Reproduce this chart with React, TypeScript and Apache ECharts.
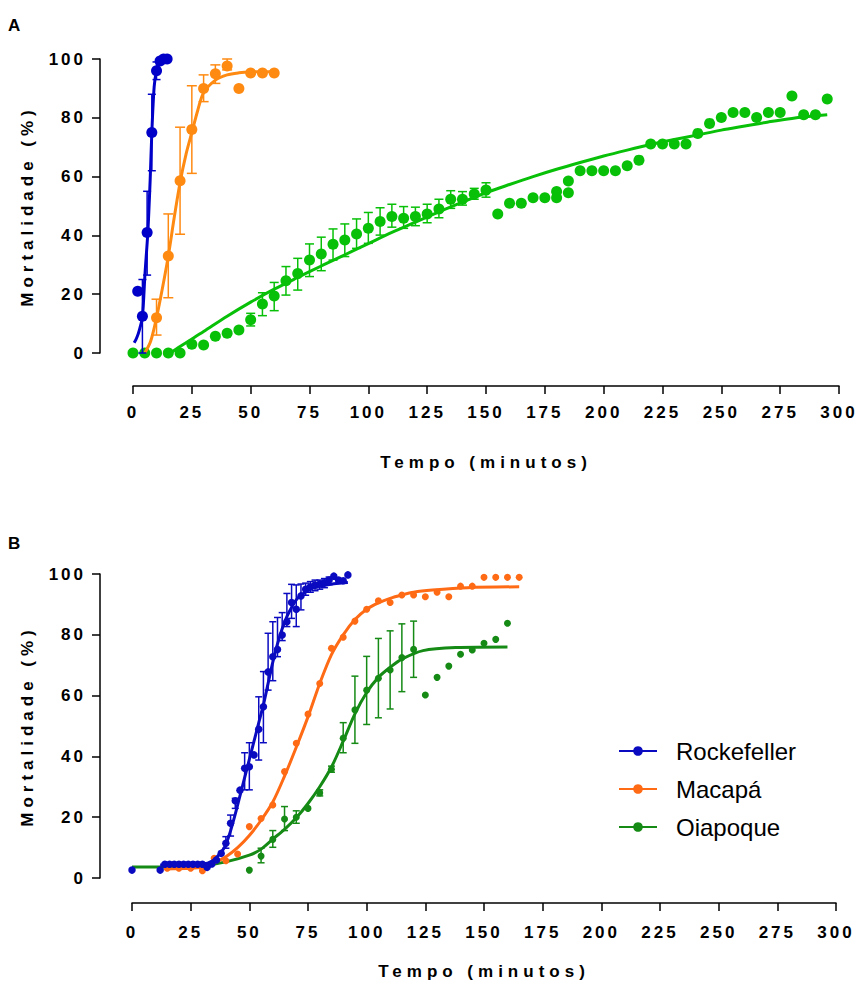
import React, { useEffect, useRef } from "react";
import * as echarts from "echarts";

// ---------- axis ticks ----------
const xTicks = [0, 25, 50, 75, 100, 125, 150, 175, 200, 225, 250, 275, 300];
const yTicks = [0, 20, 40, 60, 80, 100];
const xTitle = "Tempo (minutos)";
const yTitle = "Mortalidade (%)";

// ---------- Panel A (time in minutes, mortality %) ----------
const rockA: number[][] = [[2, 21], [4, 12.5], [6, 41], [8, 75], [10, 96], [11.5, 99.3], [13, 100], [14.5, 100]];
const rockAErr: number[][] = [[4, 0, 25], [6, 26.5, 55], [8, 62, 88], [10, 93, 99]];
const rockAFit: number[][] = [[0.5, 3.5], [1.5, 5], [2.7, 7.8], [4, 12.3], [5.1, 27], [6.3, 41], [7.3, 59], [8, 75], [9, 90.6], [10, 96], [11.5, 99]];

const macA: number[][] = [[10, 12], [15, 33], [20, 58.6], [25, 76], [30, 90], [35, 95], [40, 97.6], [45, 90], [50, 95.2], [55, 95.2], [60, 95.2]];
const macAErr: number[][] = [[10, 6.1, 18.3], [15, 18.8, 47.3], [20, 40.4, 76.8], [25, 61.1, 90.9], [30, 85.5, 94.6], [35, 91.7, 98], [40, 96.3, 100]];
const macAFit: number[][] = [[5, 0], [7.5, 4], [10, 12], [12.5, 22], [15, 33], [17.5, 46], [20, 58], [22.5, 67.5], [25, 75], [27.5, 82.5], [30, 88.5], [35, 92.8], [40, 94.6], [45, 95.3], [50, 95.6], [60, 95.7]];

const oiaA: number[][] = [
  [0, 0], [5, 0], [10, 0], [15, 0], [20, 0], [25, 3], [30, 2.7], [35, 5.7], [40, 6.7], [45, 7.8],
  [50, 11.3], [55, 16.7], [60, 19.4], [65, 24.6], [70, 27], [75, 31.6], [80, 33.7], [85, 37], [90, 38.4], [95, 40.5],
  [100, 42.4], [105, 44.7], [110, 46.4], [115, 45.8], [120, 46.4], [125, 47.3], [130, 49], [135, 52.3], [140, 52.3], [145, 54.1],
  [150, 55.4], [155, 47.3], [160, 50.9], [165, 50.9], [170, 52.8], [175, 52.8], [180, 52.8], [180, 54.9], [185, 54.5], [185, 58.5],
  [190, 62], [195, 62], [200, 62], [205, 62], [210, 63.7], [215, 65.6], [220, 71.1], [225, 71.1], [230, 71.1], [235, 71.1],
  [240, 74.7], [245, 78.1], [250, 80.1], [255, 81.8], [260, 81.8], [265, 80.1], [270, 81.8], [275, 81.8], [280, 87.4], [285, 81],
  [290, 81], [295, 86.4],
];
const oiaAErr: number[][] = [
  [50, 9.2, 13.5], [55, 12.7, 20.5], [60, 14.4, 24], [65, 19.7, 29.4], [70, 21.4, 32.2], [75, 26, 37.1], [80, 28, 39.4],
  [85, 31.6, 42.2], [90, 32.8, 43.9], [95, 35.6, 45.6], [100, 37.3, 47.8], [105, 40.1, 49.4], [110, 42.8, 50.6],
  [115, 42.4, 49.8], [120, 43.3, 49.6], [125, 44.3, 50.6], [130, 46, 52.3], [135, 49.2, 55.2], [140, 50.3, 54.9],
  [145, 52.3, 56], [150, 53, 57.9],
];
const oiaAFit: number[][] = [
  [16, 0], [20, 2.2], [30, 7.3], [40, 12.5], [50, 17.3], [60, 21.7], [70, 25.7], [80, 29.6], [90, 33.4], [100, 37.2],
  [110, 41], [120, 44.5], [130, 48], [140, 51.3], [150, 54.5], [160, 57.3], [170, 60], [180, 62.5], [190, 64.8], [200, 67],
  [210, 69], [220, 70.9], [230, 72.6], [240, 74.2], [250, 75.8], [260, 77.2], [270, 78.6], [280, 79.8], [295, 81],
];

// ---------- Panel B ----------
const rockB: number[][] = [
  [0, 2.6], [12, 2.6], [14, 4.5], [16, 4.5], [18, 4.5], [20, 4.5], [22, 4.5], [24, 4.5], [26, 4.5], [28, 4.5], [30, 4.5],
  [32, 3.5], [34, 4.6], [36, 5.9], [38, 8.1], [40, 11.4], [42, 18], [44, 25.4], [46, 28.9], [48, 36.1], [50, 36.6],
  [52, 40.5], [54, 48.9], [56, 56.3], [58, 67.8], [60, 72.8], [62, 75.2], [64, 79.9], [66, 84.3], [68, 90.6], [70, 88.4],
  [72, 92.8], [74, 95], [76, 95.8], [78, 96.4], [80, 96.7], [82, 97.1], [84, 98], [86, 99.3], [88, 98], [90, 97.8], [92, 99.7],
];
const rockBErr: number[][] = [
  [40, 9.8, 13.6], [42, 13.8, 20.7], [44, 22.9, 26.2], [48, 29, 41.2], [50, 29, 44.5], [54, 38.8, 59.6], [56, 44.5, 67.9],
  [58, 61.8, 80.5], [60, 64.9, 84.3], [62, 72.8, 85.7], [64, 78.1, 87.3], [66, 82.7, 93.6], [68, 85.4, 96.6], [70, 82.7, 96.4],
  [72, 88.2, 96.7], [74, 93, 97], [76, 94, 97.5], [78, 94.5, 98], [80, 95, 98], [82, 95.5, 98.5], [84, 96.5, 99],
];
const rockBFit: number[][] = [[12, 4.3], [30, 4.6], [34, 5.5], [38, 8.5], [40, 11], [42, 15.5], [44, 21], [46, 27], [48, 33], [50, 39], [52, 45], [54, 51], [56, 57], [58, 64], [60, 71], [62, 77], [64, 82], [66, 86], [68, 89], [70, 91.5], [72, 93], [76, 95], [80, 96], [86, 96.8], [92, 97.2]];

const macB: number[][] = [
  [15, 3.2], [20, 3.2], [25, 3.2], [30, 2.4], [35, 6.5], [40, 5.7], [45, 7.9], [50, 16.9], [55, 19.6], [60, 24], [65, 35],
  [70, 44.3], [75, 53.9], [80, 64], [85, 75.6], [90, 79.2], [95, 84.5], [100, 88.4], [105, 91.2], [110, 90.6], [115, 93.1],
  [120, 93.1], [125, 92.5], [130, 94], [135, 92.5], [140, 96], [145, 96], [150, 98.9], [155, 98.9], [160, 98.9], [165, 98.9],
];
const macBFit: number[][] = [[14, 3], [25, 3.2], [30, 3.6], [35, 5], [40, 7], [45, 10], [50, 14], [55, 19], [60, 25], [65, 33.5], [70, 43], [75, 53], [80, 64], [85, 73.5], [90, 80], [95, 85], [100, 88.4], [105, 90.5], [110, 92], [115, 93.1], [120, 94], [128, 94.7], [143, 95.5], [165, 95.8]];

const oiaB: number[][] = [
  [50, 2.6], [55, 7.2], [60, 12.7], [65, 19.4], [70, 20], [75, 22.9], [80, 28], [85, 35.8], [90, 46], [95, 55.3], [100, 61.8],
  [105, 65.7], [110, 68.4], [115, 72.5], [120, 75.2], [125, 60.2], [130, 66], [135, 69.7], [140, 73.6], [145, 75], [150, 77.2],
  [155, 78.5], [160, 83.8],
];
const oiaBErr: number[][] = [
  [55, 5, 9.8], [60, 10.1, 15.6], [65, 15.6, 23.5], [70, 18, 22.1], [80, 27, 29], [85, 34.8, 36.8], [90, 41.2, 51.1],
  [95, 44.3, 66.4], [100, 50.5, 72.9], [105, 52.7, 78.8], [110, 55.6, 81.3], [115, 61.3, 83.6], [120, 66, 84.5],
];
const oiaBFit: number[][] = [[0, 3.6], [20, 3.7], [30, 4], [40, 5.3], [50, 7.5], [55, 9.5], [60, 12.8], [65, 16], [70, 19.8], [75, 24.5], [80, 30], [85, 36.5], [90, 45], [95, 54], [100, 61], [105, 66], [110, 69.3], [115, 72], [124, 74.8], [138, 75.8], [160, 76]];

const legendNames = ["Rockefeller", "Macapá", "Oiapoque"];

// ---------- styling ----------
const FONT = '"Liberation Sans", Arial, sans-serif';
const colA = { rock: "#0000C8", mac: "#FF8A12", oia: "#08C008" };
const colB = { rock: "#0A0AC0", mac: "#FF6A14", oia: "#158A15" };

function errSeries(name: string, data: number[][], color: string, idx: number, capW: number, lw: number, z: number) {
  return {
    type: "custom",
    name,
    xAxisIndex: idx,
    yAxisIndex: idx,
    z,
    silent: true,
    encode: { x: 0, y: [1, 2] },
    data,
    renderItem: (_p: any, api: any) => {
      const t = api.value(0);
      const a = api.coord([t, api.value(1)]);
      const b = api.coord([t, api.value(2)]);
      const style = { stroke: color, lineWidth: lw, fill: "none" };
      return {
        type: "group",
        children: [
          { type: "line", shape: { x1: a[0], y1: a[1], x2: b[0], y2: b[1] }, style },
          { type: "line", shape: { x1: a[0] - capW / 2, y1: a[1], x2: a[0] + capW / 2, y2: a[1] }, style },
          { type: "line", shape: { x1: b[0] - capW / 2, y1: b[1], x2: b[0] + capW / 2, y2: b[1] }, style },
        ],
      };
    },
  };
}

function scatter(name: string, data: number[][], color: string, idx: number, size: number, z: number) {
  return { type: "scatter", name, xAxisIndex: idx, yAxisIndex: idx, data, symbol: "circle", symbolSize: size, itemStyle: { color, opacity: 1 }, z, silent: true };
}

function fit(name: string, data: number[][], color: string, idx: number, w: number, z: number) {
  return {
    type: "line", name, xAxisIndex: idx, yAxisIndex: idx, data, smooth: 0.3, showSymbol: false, symbol: "circle", symbolSize: 9,
    itemStyle: { color }, lineStyle: { color, width: w }, z, silent: true,
  };
}

const tickLabel = { fontSize: 17, fontWeight: "bold", color: "#000", fontFamily: FONT };
const titleStyle = { fontSize: 17, fontWeight: "bold", color: "#000", fontFamily: FONT };

function xAxisCfg(idx: number, offset: number, margin: number, nameGap: number) {
  return {
    gridIndex: idx, type: "value", min: xTicks[0], max: xTicks[xTicks.length - 1], interval: xTicks[1] - xTicks[0],
    offset,
    axisLine: { show: true, onZero: false, lineStyle: { color: "#000", width: 1.5 } },
    axisTick: { show: true, length: 8, lineStyle: { color: "#000", width: 1.5 } },
    axisLabel: { margin, ...tickLabel },
    splitLine: { show: false },
    name: xTitle, nameLocation: "middle", nameGap,
    nameTextStyle: titleStyle,
  };
}

function yAxisCfg(idx: number, offset: number) {
  return {
    gridIndex: idx, type: "value", min: yTicks[0], max: yTicks[yTicks.length - 1], interval: yTicks[1] - yTicks[0],
    offset,
    axisLine: { show: true, onZero: false, lineStyle: { color: "#000", width: 1.5 } },
    axisTick: { show: true, length: 8, lineStyle: { color: "#000", width: 1.5 } },
    axisLabel: { margin: 14, ...tickLabel },
    splitLine: { show: false },
    name: yTitle, nameLocation: "middle", nameGap: 64,
    nameTextStyle: titleStyle,
  };
}

const tickSet = new Set([...xTicks, ...yTicks].map(String));
const titleSet = new Set([xTitle, yTitle]);

function spaceTexts(root: HTMLElement | null) {
  if (!root) return;
  root.querySelectorAll("text").forEach((el) => {
    const t = (el.textContent || "").trim();
    if (tickSet.has(t)) el.setAttribute("letter-spacing", "3");
    else if (titleSet.has(t)) el.setAttribute("letter-spacing", "5");
  });
}

export default function App() {
  const ref = useRef<HTMLDivElement>(null);
  useEffect(() => {
    if (!ref.current) return;
    const chart = echarts.init(ref.current, null, { renderer: "svg" });
    chart.setOption({
      animation: false,
      backgroundColor: "#fff",
      textStyle: { fontFamily: FONT },
      grid: [
        { left: 133, top: 59, width: 706, height: 294 },
        { left: 132, top: 574, width: 704, height: 304 },
      ],
      xAxis: [xAxisCfg(0, 33, 18, 68), xAxisCfg(1, 25, 21, 60)],
      yAxis: [yAxisCfg(0, 33), yAxisCfg(1, 32)],
      legend: {
        data: legendNames,
        orient: "vertical",
        left: 613,
        top: 734,
        itemWidth: 38,
        itemHeight: 12,
        itemGap: 14,
        textStyle: { fontSize: 24, color: "#000", fontFamily: FONT, padding: [0, 0, 0, 14] },
        selectedMode: false,
        legendHoverLink: false,
      },
      graphic: [
        { type: "text", left: 8, top: 17, style: { text: "A", fontSize: 17, fontWeight: "bold", fill: "#000", fontFamily: FONT } },
        { type: "text", left: 8, top: 535, style: { text: "B", fontSize: 17, fontWeight: "bold", fill: "#000", fontFamily: FONT } },
      ],
      series: [
        // Panel A
        errSeries("errOiaA", oiaAErr, colA.oia, 0, 9, 1.5, 2),
        fit("fitOiaA", oiaAFit, colA.oia, 0, 3, 3),
        scatter("ptsOiaA", oiaA, colA.oia, 0, 11, 4),
        errSeries("errMacA", macAErr, colA.mac, 0, 10, 1.5, 5),
        fit("fitMacA", macAFit, colA.mac, 0, 3, 6),
        scatter("ptsMacA", macA, colA.mac, 0, 11, 7),
        errSeries("errRockA", rockAErr, colA.rock, 0, 8, 1.5, 8),
        fit("fitRockA", rockAFit, colA.rock, 0, 3, 9),
        scatter("ptsRockA", rockA, colA.rock, 0, 11, 10),
        // Panel B
        errSeries("errOiaB", oiaBErr, colB.oia, 1, 7, 1.5, 2),
        fit("Oiapoque", oiaBFit, colB.oia, 1, 3, 3),
        scatter("ptsOiaB", oiaB, colB.oia, 1, 7, 4),
        fit("Macapá", macBFit, colB.mac, 1, 3, 6),
        scatter("ptsMacB", macB, colB.mac, 1, 7, 7),
        errSeries("errRockB", rockBErr, colB.rock, 1, 7, 1.5, 8),
        fit("Rockefeller", rockBFit, colB.rock, 1, 3, 9),
        scatter("ptsRockB", rockB, colB.rock, 1, 7.5, 10),
      ],
    });
    const apply = () => spaceTexts(ref.current);
    apply();
    chart.on("finished", apply);
    const timer = setTimeout(apply, 50);
    return () => {
      clearTimeout(timer);
      chart.dispose();
    };
  }, []);
  return <div ref={ref} style={{ position: "fixed", left: 0, top: 0, width: 860, height: 983, background: "#fff" }} />;
}
